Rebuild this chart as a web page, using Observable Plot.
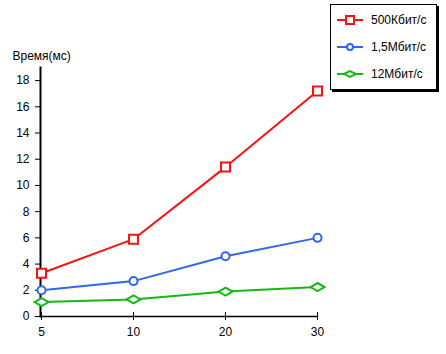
<!DOCTYPE html>
<html><head><meta charset="utf-8">
<script src="https://cdn.jsdelivr.net/npm/d3@7"></script>
<script src="https://cdn.jsdelivr.net/npm/@observablehq/plot@0.6"></script>
<style>
body{margin:0;background:#fff;font-family:"Liberation Sans",Arial,sans-serif;}
#wrap{position:relative;width:446px;height:354px;}
#legend{position:absolute;left:330px;top:4px;width:105px;height:84px;border:1px solid #000;box-shadow:2px 2px 0 #000;background:#fff;font-size:12px;}
.row{position:absolute;left:6px;height:14px;display:flex;align-items:center;}
.row span{margin-left:8px;}
</style></head><body>
<div id="wrap"><div id="legend"></div></div>
<script>
const xLabels = ["5", "10", "20", "30"];
const seriesNames = ["500Кбит/с", "1,5Мбит/с", "12Мбит/с"];
const red500 = [3.3, 5.9, 11.4, 17.2];
const blue15 = [2.0, 2.7, 4.6, 6.0];
const green12 = [1.1, 1.3, 1.9, 2.25];
const yTicks = [0, 2, 4, 6, 8, 10, 12, 14, 16, 18];
const yLabel = "Время(мс)";
const colors = ["#ff1010", "#3366ee", "#16b816"];

const series = [red500, blue15, green12];
const data = [];
series.forEach((vals, s) => vals.forEach((v, i) => data.push({x: xLabels[i], y: v, s: seriesNames[s]})));

const symbols = [
  {draw(ctx){ctx.rect(-4.5,-4.5,9,9);}},
  {draw(ctx){ctx.moveTo(4,0); ctx.arc(0,0,4,0,2*Math.PI);}},
  {draw(ctx){const w = 7, h = 4; ctx.moveTo(-w,0); ctx.lineTo(0,-h); ctx.lineTo(w,0); ctx.lineTo(0,h); ctx.closePath();}}
];

const marks = [
  Plot.frame({anchor:"left", stroke:"#000", strokeWidth:2}),
  Plot.frame({anchor:"bottom", stroke:"#000", strokeWidth:1.5}),
  Plot.axisY({ticks: yTicks, tickSize:5, tickPadding:6, label:null, fontSize:12}),
  Plot.axisX({tickSize:4, tickPadding:7, label:null, fontSize:12}),
  Plot.ruleX(xLabels, {x:d=>d, y1:0, y2:0.3, stroke:"#000"}),
  Plot.text([yLabel], {frameAnchor:"top-left", dx:-28, dy:-16, textAnchor:"start", fontSize:12})
];
series.forEach((vals, s) => {
  const d = data.filter(r => r.s === seriesNames[s]);
  marks.push(Plot.line(d, {x:"x", y:"y", stroke:colors[s], strokeWidth:2}));
  marks.push(Plot.dot(d, {x:"x", y:"y", symbol:symbols[s], stroke:colors[s], fill:"#fff", strokeWidth:2, r:5}));
});

const chart = Plot.plot({
  width:446, height:354,
  marginLeft:40, marginRight:129, marginTop:67, marginBottom:38,
  style:{fontFamily:"'Liberation Sans', Arial, sans-serif", fontSize:"12px", background:"#fff"},
  x:{type:"point", domain:xLabels, padding:0},
  y:{domain:[0,19]},
  marks
});
chart.style.position = "absolute";
chart.style.left = "0"; chart.style.top = "0";
const wrap = document.getElementById("wrap");
wrap.insertBefore(chart, wrap.firstChild);

const legend = document.getElementById("legend");
const icons = [
  '<rect x="9" y="3" width="8" height="8" fill="#fff" stroke="COLOR" stroke-width="2"/>',
  '<circle cx="13" cy="7" r="3" fill="#fff" stroke="COLOR" stroke-width="2"/>',
  '<path d="M7,7L13,4L19,7L13,10Z" fill="#fff" stroke="COLOR" stroke-width="2"/>'
];
seriesNames.forEach((n, i) => {
  const row = document.createElement("div");
  row.className = "row";
  row.style.top = (8 + i * 27) + "px";
  row.innerHTML = '<svg width="26" height="14"><line x1="0" x2="26" y1="7" y2="7" stroke="' + colors[i] + '" stroke-width="2"/>' + icons[i].replace("COLOR", colors[i]) + '</svg><span>' + n + '</span>';
  legend.appendChild(row);
});
</script>
</body></html>
